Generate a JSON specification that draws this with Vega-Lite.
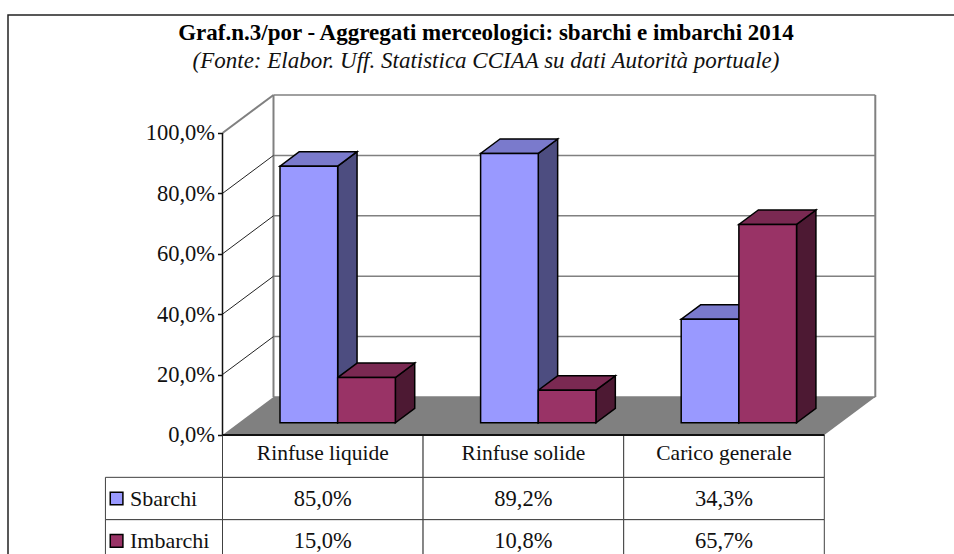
{
"$schema":"https://vega.github.io/schema/vega-lite/v6.json",
"width":950,"height":545,"autosize":"none","padding":{"left":8,"top":15,"right":0,"bottom":0},
"background":"white",
"config":{"view":{"stroke":"#222222","strokeWidth":1.5},"font":"Liberation Serif"},
"title":{"text":"Graf.n.3/por - Aggregati merceologici: sbarchi e imbarchi 2014","subtitle":"(Fonte: Elabor. Uff. Statistica CCIAA su dati Autorità portuale)","font":"Liberation Serif","fontSize":23,"fontWeight":"bold","color":"black","subtitleFont":"Liberation Serif","subtitleFontSize":23,"subtitleFontStyle":"italic","subtitleColor":"#111111","subtitlePadding":5,"anchor":"middle","dx":3,"offset":-58,"frame":"group"},
"datasets":{
"rows":[
{"category":"Rinfuse liquide","series":"Sbarchi","value":85.0},
{"category":"Rinfuse liquide","series":"Imbarchi","value":15.0},
{"category":"Rinfuse solide","series":"Sbarchi","value":89.2},
{"category":"Rinfuse solide","series":"Imbarchi","value":10.8},
{"category":"Carico generale","series":"Sbarchi","value":34.3},
{"category":"Carico generale","series":"Imbarchi","value":65.7}],
"ticks":[{"tick":0},{"tick":20},{"tick":40},{"tick":60},{"tick":80},{"tick":100}]
},
"resolve":{"scale":{"y":"independent"}},
"layer":[
{"data":{"name":"rows"},
"transform":[
{"calculate":"indexof(['Rinfuse liquide','Rinfuse solide','Carico generale'],datum.category)","as":"col"},
{"calculate":"datum.col+1","as":"colEnd"},
{"calculate":"replace(format(datum.value,'.1f'),'.',',')+'%'","as":"label"}],
"layer":[
{"mark":{"type":"rect","fill":"white","stroke":"#404040","strokeWidth":1},
"encoding":{"x":{"field":"col","type":"quantitative","scale":{"domain":[-1.0693,3.6665],"nice":false,"zero":false},"axis":null},"x2":{"field":"colEnd"},"y":{"field":"series","type":"nominal","scale":{"domain":["header","Sbarchi","Imbarchi"],"range":[420,547],"paddingInner":0,"paddingOuter":0},"axis":null}}},
{"transform":[{"filter":"datum.series=='Sbarchi'"}],"mark":{"type":"rect","fill":"white","stroke":"#404040","strokeWidth":1},
"encoding":{"x":{"field":"col","type":"quantitative"},"x2":{"field":"colEnd"},"y":{"datum":"header","type":"nominal"}}},
{"transform":[{"filter":"datum.col==0"}],"mark":{"type":"rect","fill":"white","stroke":"#404040","strokeWidth":1},
"encoding":{"x":{"datum":-0.5836,"type":"quantitative"},"x2":{"datum":0},"y":{"field":"series","type":"nominal"}}},
{"mark":{"type":"text","fontSize":22.5,"font":"Liberation Serif","color":"#111111","align":"center","baseline":"middle","xOffset":100.3},
"encoding":{"x":{"field":"col","type":"quantitative"},"y":{"field":"series","type":"nominal"},"text":{"field":"label"}}},
{"transform":[{"filter":"datum.series=='Sbarchi'"}],"mark":{"type":"text","fontSize":21.5,"font":"Liberation Serif","color":"#111111","align":"center","baseline":"middle","xOffset":100.3,"yOffset":-2},
"encoding":{"x":{"field":"col","type":"quantitative"},"y":{"datum":"header","type":"nominal"},"text":{"field":"category"}}},
{"transform":[{"filter":"datum.col==0"}],"mark":{"type":"text","fontSize":22,"font":"Liberation Serif","color":"#111111","align":"left","baseline":"middle"},
"encoding":{"x":{"datum":-0.461,"type":"quantitative"},"y":{"field":"series","type":"nominal"},"text":{"field":"series"}}},
{"transform":[{"filter":"datum.col==0"}],"mark":{"type":"point","shape":"square","filled":true,"size":160,"stroke":"black","strokeWidth":1.5,"opacity":1},
"encoding":{"x":{"datum":-0.528,"type":"quantitative"},"y":{"field":"series","type":"nominal"},"color":{"field":"series","type":"nominal","scale":{"domain":["Sbarchi","Imbarchi"],"range":["#9999FF","#993366"]},"legend":null}}}
]},
{"resolve":{"scale":{"color":"independent"}},
"layer":[
{"data":{"values":[{"z":0},{"z":1}]},
"transform":[{"calculate":"datum.z*0.2542","as":"fx0"},{"calculate":"3+datum.z*0.2542","as":"fx1"},{"calculate":"datum.z*12.58","as":"fy"}],
"mark":{"type":"area","orient":"horizontal","color":"#808080"},
"encoding":{"x":{"field":"fx0","type":"quantitative","axis":null},"x2":{"field":"fx1"},"y":{"field":"fy","type":"quantitative","scale":{"domain":[-41.39,139.07],"nice":false,"zero":false},"axis":{"orient":"left","values":[0,20,40,60,80,100],"offset":-214.5,"domain":false,"grid":false,"title":null,"tickSize":5,"tickColor":"#111111","tickWidth":1.5,"labelFont":"Liberation Serif","labelFontSize":22.5,"labelColor":"#111111","labelPadding":3,"labelExpr":"replace(format(datum.value,'.1f'),'.',',')+'%'"}}}},
{"data":{"name":"ticks"},"transform":[{"calculate":"datum.tick+12.58","as":"b"}],
"mark":{"type":"rule","color":"#808080","strokeWidth":1.5},
"encoding":{"x":{"datum":0.2542,"type":"quantitative"},"x2":{"datum":3.2542},"y":{"field":"b","type":"quantitative"}}},
{"data":{"values":[{"edge":0.2542},{"edge":3.2542}]},
"mark":{"type":"rule","color":"#808080","strokeWidth":2},
"encoding":{"x":{"field":"edge","type":"quantitative"},"y":{"datum":12.58,"type":"quantitative"},"y2":{"datum":112.58}}},
{"data":{"name":"ticks"},"transform":[{"filter":"datum.tick>0"},{"calculate":"[0,1]","as":"z"},{"flatten":["z"]},{"calculate":"datum.z*0.2542","as":"dx"},{"calculate":"datum.tick+datum.z*12.58","as":"dy"}],
"mark":{"type":"line","interpolate":"linear"},
"encoding":{"x":{"field":"dx","type":"quantitative"},"y":{"field":"dy","type":"quantitative"},"detail":{"field":"tick"},
"color":{"condition":{"test":"datum.tick==100","value":"#808080"},"value":"#222222"},
"strokeWidth":{"condition":{"test":"datum.tick==100","value":2},"value":1}}},
{"data":{"values":[{"a":0}]},"mark":{"type":"rule","color":"#111111","strokeWidth":1.5},
"encoding":{"x":{"field":"a","type":"quantitative"},"y":{"datum":0,"type":"quantitative"},"y2":{"datum":100}}},
{"data":{"values":[{"a":0}]},"mark":{"type":"rule","color":"#111111","strokeWidth":2},
"encoding":{"y":{"field":"a","type":"quantitative"},"x":{"datum":0,"type":"quantitative"},"x2":{"datum":3}}},
{"data":{"name":"rows"},
"transform":[
{"calculate":"indexof(['Rinfuse liquide','Rinfuse solide','Carico generale'],datum.category)+0.2053+(datum.series=='Imbarchi'?0.2875:0)","as":"bx"},
{"calculate":"[0.32,0.7]","as":"z"},{"flatten":["z"]},
{"calculate":"datum.bx+0.2875+datum.z*0.2542","as":"sx"},
{"calculate":"datum.value+datum.z*12.58","as":"sy"},
{"calculate":"datum.z*12.58","as":"sy0"},
{"calculate":"datum.category+datum.series","as":"key"}],
"mark":{"type":"area","stroke":"black","strokeWidth":1.5,"opacity":1},
"encoding":{"x":{"field":"sx","type":"quantitative"},"y":{"field":"sy","type":"quantitative"},"y2":{"field":"sy0"},"detail":{"field":"key"},
"color":{"field":"series","type":"nominal","scale":{"domain":["Sbarchi","Imbarchi"],"range":["#4D4D80","#4D1933"]},"legend":null}}},
{"data":{"name":"rows"},
"transform":[
{"calculate":"indexof(['Rinfuse liquide','Rinfuse solide','Carico generale'],datum.category)+0.2053+(datum.series=='Imbarchi'?0.2875:0)","as":"bx"},
{"calculate":"[0.32,0.7]","as":"z"},{"flatten":["z"]},
{"calculate":"datum.bx+datum.z*0.2542","as":"tx0"},
{"calculate":"datum.bx+0.2875+datum.z*0.2542","as":"tx1"},
{"calculate":"datum.value+datum.z*12.58","as":"ty"},
{"calculate":"datum.category+datum.series","as":"key"}],
"mark":{"type":"area","orient":"horizontal","stroke":"black","strokeWidth":1.5,"opacity":1},
"encoding":{"x":{"field":"tx0","type":"quantitative"},"x2":{"field":"tx1"},"y":{"field":"ty","type":"quantitative"},"detail":{"field":"key"},
"color":{"field":"series","type":"nominal","scale":{"domain":["Sbarchi","Imbarchi"],"range":["#7A7ACC","#7A2952"]},"legend":null}}},
{"data":{"name":"rows"},
"transform":[
{"calculate":"indexof(['Rinfuse liquide','Rinfuse solide','Carico generale'],datum.category)+0.2053+(datum.series=='Imbarchi'?0.2875:0)+0.32*0.2542","as":"fx0"},
{"calculate":"datum.fx0+0.2875","as":"fx1"},
{"calculate":"datum.value+0.32*12.58","as":"fy1"},
{"calculate":"0.32*12.58","as":"fy0"}],
"mark":{"type":"rect","stroke":"black","strokeWidth":1.5,"opacity":1},
"encoding":{"x":{"field":"fx0","type":"quantitative"},"x2":{"field":"fx1"},"y":{"field":"fy1","type":"quantitative"},"y2":{"field":"fy0"},
"color":{"field":"series","type":"nominal","scale":{"domain":["Sbarchi","Imbarchi"],"range":["#9999FF","#993366"]},"legend":null}}}
]}
]
}
